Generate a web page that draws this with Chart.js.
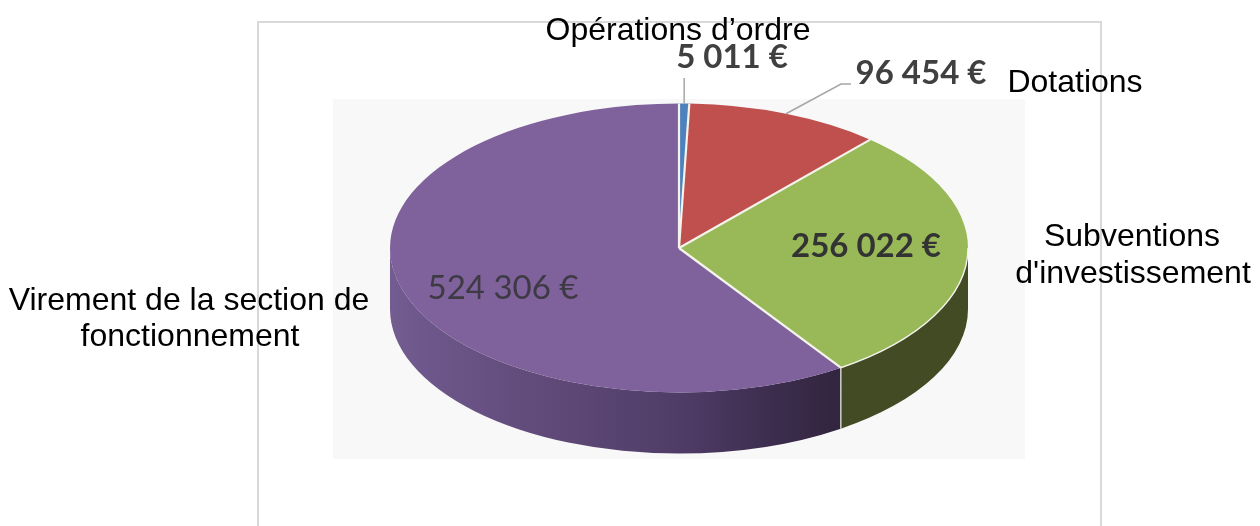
<!DOCTYPE html>
<html><head><meta charset="utf-8">
<style>html,body{margin:0;padding:0;background:#fff;overflow:hidden}canvas{display:block}</style>
<script src="https://cdn.jsdelivr.net/npm/chart.js@4"></script>
</head><body>
<canvas id="c" width="1260" height="526"></canvas>
<script>
const categories = ["Opérations d’ordre", "Dotations", "Subventions d'investissement", "Virement de la section de fonctionnement"];
const values = [5011, 96454, 256022, 524306];
const colors = ["#4f81bd", "#c0504d", "#99b958", "#7f619c"];

const CX = 679, RX = 289, RY = 144.5, DEPTH = 61;
const fmt = v => String(v).replace(/\B(?=(\d{3})+$)/g, " ") + " €";

function wall(ctx, a0, a1, fill, cy) {
  const s = Math.max(a0, 0), e = Math.min(a1, Math.PI);
  if (e <= s) return;
  ctx.beginPath();
  ctx.ellipse(CX, cy, RX, RY, 0, s, e, false);
  ctx.ellipse(CX, cy + DEPTH, RX, RY, 0, e, s, true);
  ctx.closePath();
  ctx.fillStyle = fill;
  ctx.fill();
}

const pie3d = {
  id: "pie3d",
  beforeDraw(chart) {
    const c = chart.ctx;
    c.save();
    c.fillStyle = "#fff"; c.fillRect(0, 0, 1260, 526);
    c.strokeStyle = "#d9d9d9"; c.lineWidth = 2;
    c.beginPath(); c.moveTo(258, 526); c.lineTo(258, 22); c.lineTo(1101, 22); c.lineTo(1101, 526); c.stroke();
    c.fillStyle = "#f8f8f8"; c.fillRect(333, 99, 692, 360);
    c.restore();
  },
  beforeDatasetDraw(chart) {
    const c = chart.ctx, arcs = chart.getDatasetMeta(0).data, cy = arcs[0].y;
    const g = c.createLinearGradient(390, 0, 840, 0);
    g.addColorStop(0, "#725c90"); g.addColorStop(0.3, "#624c7c");
    g.addColorStop(0.65, "#4f3c66"); g.addColorStop(0.85, "#3c2d4e"); g.addColorStop(1, "#32253f");
    const walls = ["#3f5f8c", "#8c3a38", "#424b24", g];
    arcs.forEach((a, i) => wall(c, a.startAngle, a.endAngle, walls[i], cy));
    c.save();
    c.translate(CX, 0); c.scale(RX / RY, 1); c.translate(-CX, 0);
  },
  afterDatasetDraw(chart) {
    const c = chart.ctx, arcs = chart.getDatasetMeta(0).data, cy = arcs[0].y;
    c.restore();
    // white separators between slices
    c.save();
    c.strokeStyle = "#f4f4ec"; c.lineWidth = 2.2;
    arcs.forEach(a => {
      c.beginPath(); c.moveTo(CX, cy);
      c.lineTo(CX + RX * Math.cos(a.startAngle), cy + RY * Math.sin(a.startAngle));
      c.stroke();
    });
    // rim of the green slice and the vertical edge on the wall
    const g = arcs[2];
    c.lineWidth = 1.4;
    c.beginPath(); c.ellipse(CX, cy, RX, RY, 0, Math.max(g.startAngle, 0), g.endAngle); c.stroke();
    const ex = CX + RX * Math.cos(g.endAngle), ey = cy + RY * Math.sin(g.endAngle);
    c.strokeStyle = "#d8d8d8"; c.lineWidth = 1.4;
    c.beginPath(); c.moveTo(ex, ey); c.lineTo(ex, ey + DEPTH); c.stroke();
    // leader lines
    c.strokeStyle = "#a6a6a6"; c.lineWidth = 1.5;
    const b = arcs[0], bm = (b.startAngle + b.endAngle) / 2;
    const bx = CX + RX * Math.cos(bm), by = cy + RY * Math.sin(bm);
    c.beginPath(); c.moveTo(bx, by); c.lineTo(bx, 78); c.stroke();
    const r = arcs[1], rm = (r.startAngle + r.endAngle) / 2;
    c.beginPath(); c.moveTo(CX + RX * Math.cos(rm), cy + RY * Math.sin(rm)); c.lineTo(841, 84); c.lineTo(851, 84); c.stroke();
    c.restore();
  },
  afterDraw(chart) {
    const c = chart.ctx;
    c.save();
    c.textBaseline = "middle"; c.textAlign = "center";
    const cal = (bold, size) => (bold ? "bold " : "") + size + "px Lato";
    const dataLabels = [
      [732, 57, true, "#404040"], [921, 73, true, "#404040"],
      [866, 246, true, "#333333"], [503, 288, false, "#3d3a44"]
    ];
    values.forEach((v, i) => {
      const [x, y, bold, col] = dataLabels[i];
      c.font = cal(bold, 33); c.fillStyle = col;
      c.fillText(fmt(v), x, y);
    });
    c.fillStyle = "#000"; c.font = "32px 'Liberation Sans'";
    c.fillText(categories[0], 678, 31);
    c.fillText(categories[1], 1075, 83);
    c.fillText("Subventions", 1132, 237);
    c.fillText("d'investissement", 1133, 274);
    c.fillText("Virement de la section de", 189, 301);
    c.fillText("fonctionnement", 190, 337);
    c.restore();
  }
};

new Chart(document.getElementById("c"), {
  type: "pie",
  data: { labels: categories, datasets: [{ data: values, backgroundColor: colors, borderWidth: 0, clip: false }] },
  options: {
    responsive: false, animation: false,
    layout: { padding: { top: 103.5, bottom: 526 - 392.5, left: CX - RY, right: 1260 - CX - RY } },
    plugins: { legend: { display: false }, tooltip: { enabled: false } }
  },
  plugins: [pie3d]
});
</script>
</body></html>
